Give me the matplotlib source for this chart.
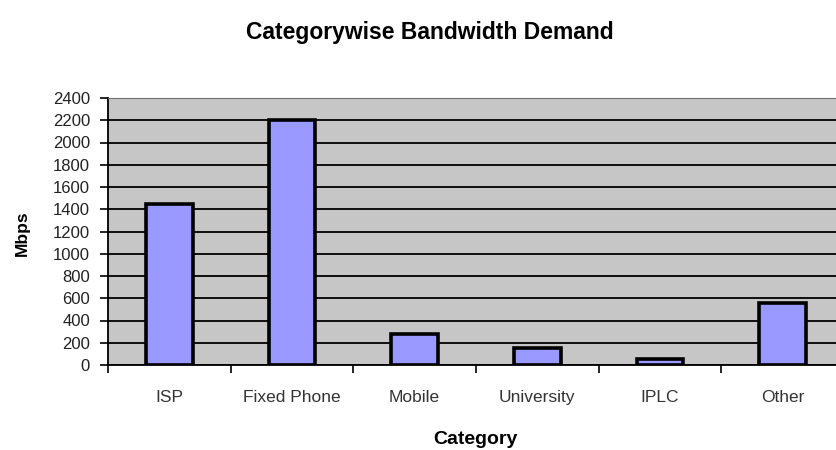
import matplotlib
matplotlib.use("Agg")
import matplotlib.pyplot as plt
import numpy as np

plt.rcParams['font.family'] = ['Liberation Sans', 'DejaVu Sans']

categories = ["ISP", "Fixed Phone", "Mobile", "University", "IPLC", "Other"]
demand_mbps = [1450, 2200, 280, 150, 50, 560]
y_ticks = list(range(0, 2401, 200))

W, H = 836, 450
fig = plt.figure(figsize=(W / 100, H / 100), dpi=100)
ax = fig.add_axes([108 / W, 1 - 365 / H, (844 - 108) / W, (365 - 98) / H])

ax.set_facecolor("#c6c6c6")
x = np.arange(len(categories))
ax.bar(x, demand_mbps, width=0.38, color="#9999ff", edgecolor="black",
       linewidth=2.6, zorder=3)

ax.set_ylim(0, 2400)
ax.set_xlim(-0.5, len(categories) - 0.5)
ax.set_yticks(y_ticks)
ax.set_yticklabels([str(v) for v in y_ticks], fontsize=12, color="#222222")
ax.yaxis.grid(True, color="black", linewidth=1.3, zorder=1)
ax.set_axisbelow(True)

# category boundaries as major ticks, names centred on minor ticks
ax.set_xticks(np.arange(-0.5, len(categories), 1.0))
ax.set_xticklabels([])
ax.set_xticks(x, minor=True)
ax.set_xticklabels(categories, minor=True, fontsize=12.5, color="#333333")
ax.tick_params(axis="x", which="minor", length=0, pad=18)
ax.tick_params(axis="x", which="major", length=6, width=1.2, direction="out")
ax.tick_params(axis="y", length=6, width=1.2, direction="out", pad=7)

for side in ("left", "bottom"):
    ax.spines[side].set_color("black")
    ax.spines[side].set_linewidth(1.3)
ax.spines["top"].set_color("#707070")
ax.spines["right"].set_visible(False)

# axis titles placed in figure pixels
to_axes = fig.transFigure + ax.transAxes.inverted()
ax.set_ylabel("Mbps", fontsize=12.5, fontweight="bold", va="center")
ax.yaxis.set_label_coords(*to_axes.transform((22 / W, 1 - 233 / H)))
ax.set_xlabel("Category", fontsize=14, fontweight="bold", va="center")
ax.xaxis.set_label_coords(*to_axes.transform((475 / W, 1 - 439 / H)))

fig.text(430 / W, 1 - 32 / H, "Categorywise Bandwidth Demand",
         ha="center", va="center", fontsize=16.5, fontweight="bold")

fig.savefig("out.png", dpi=100, facecolor="white")
